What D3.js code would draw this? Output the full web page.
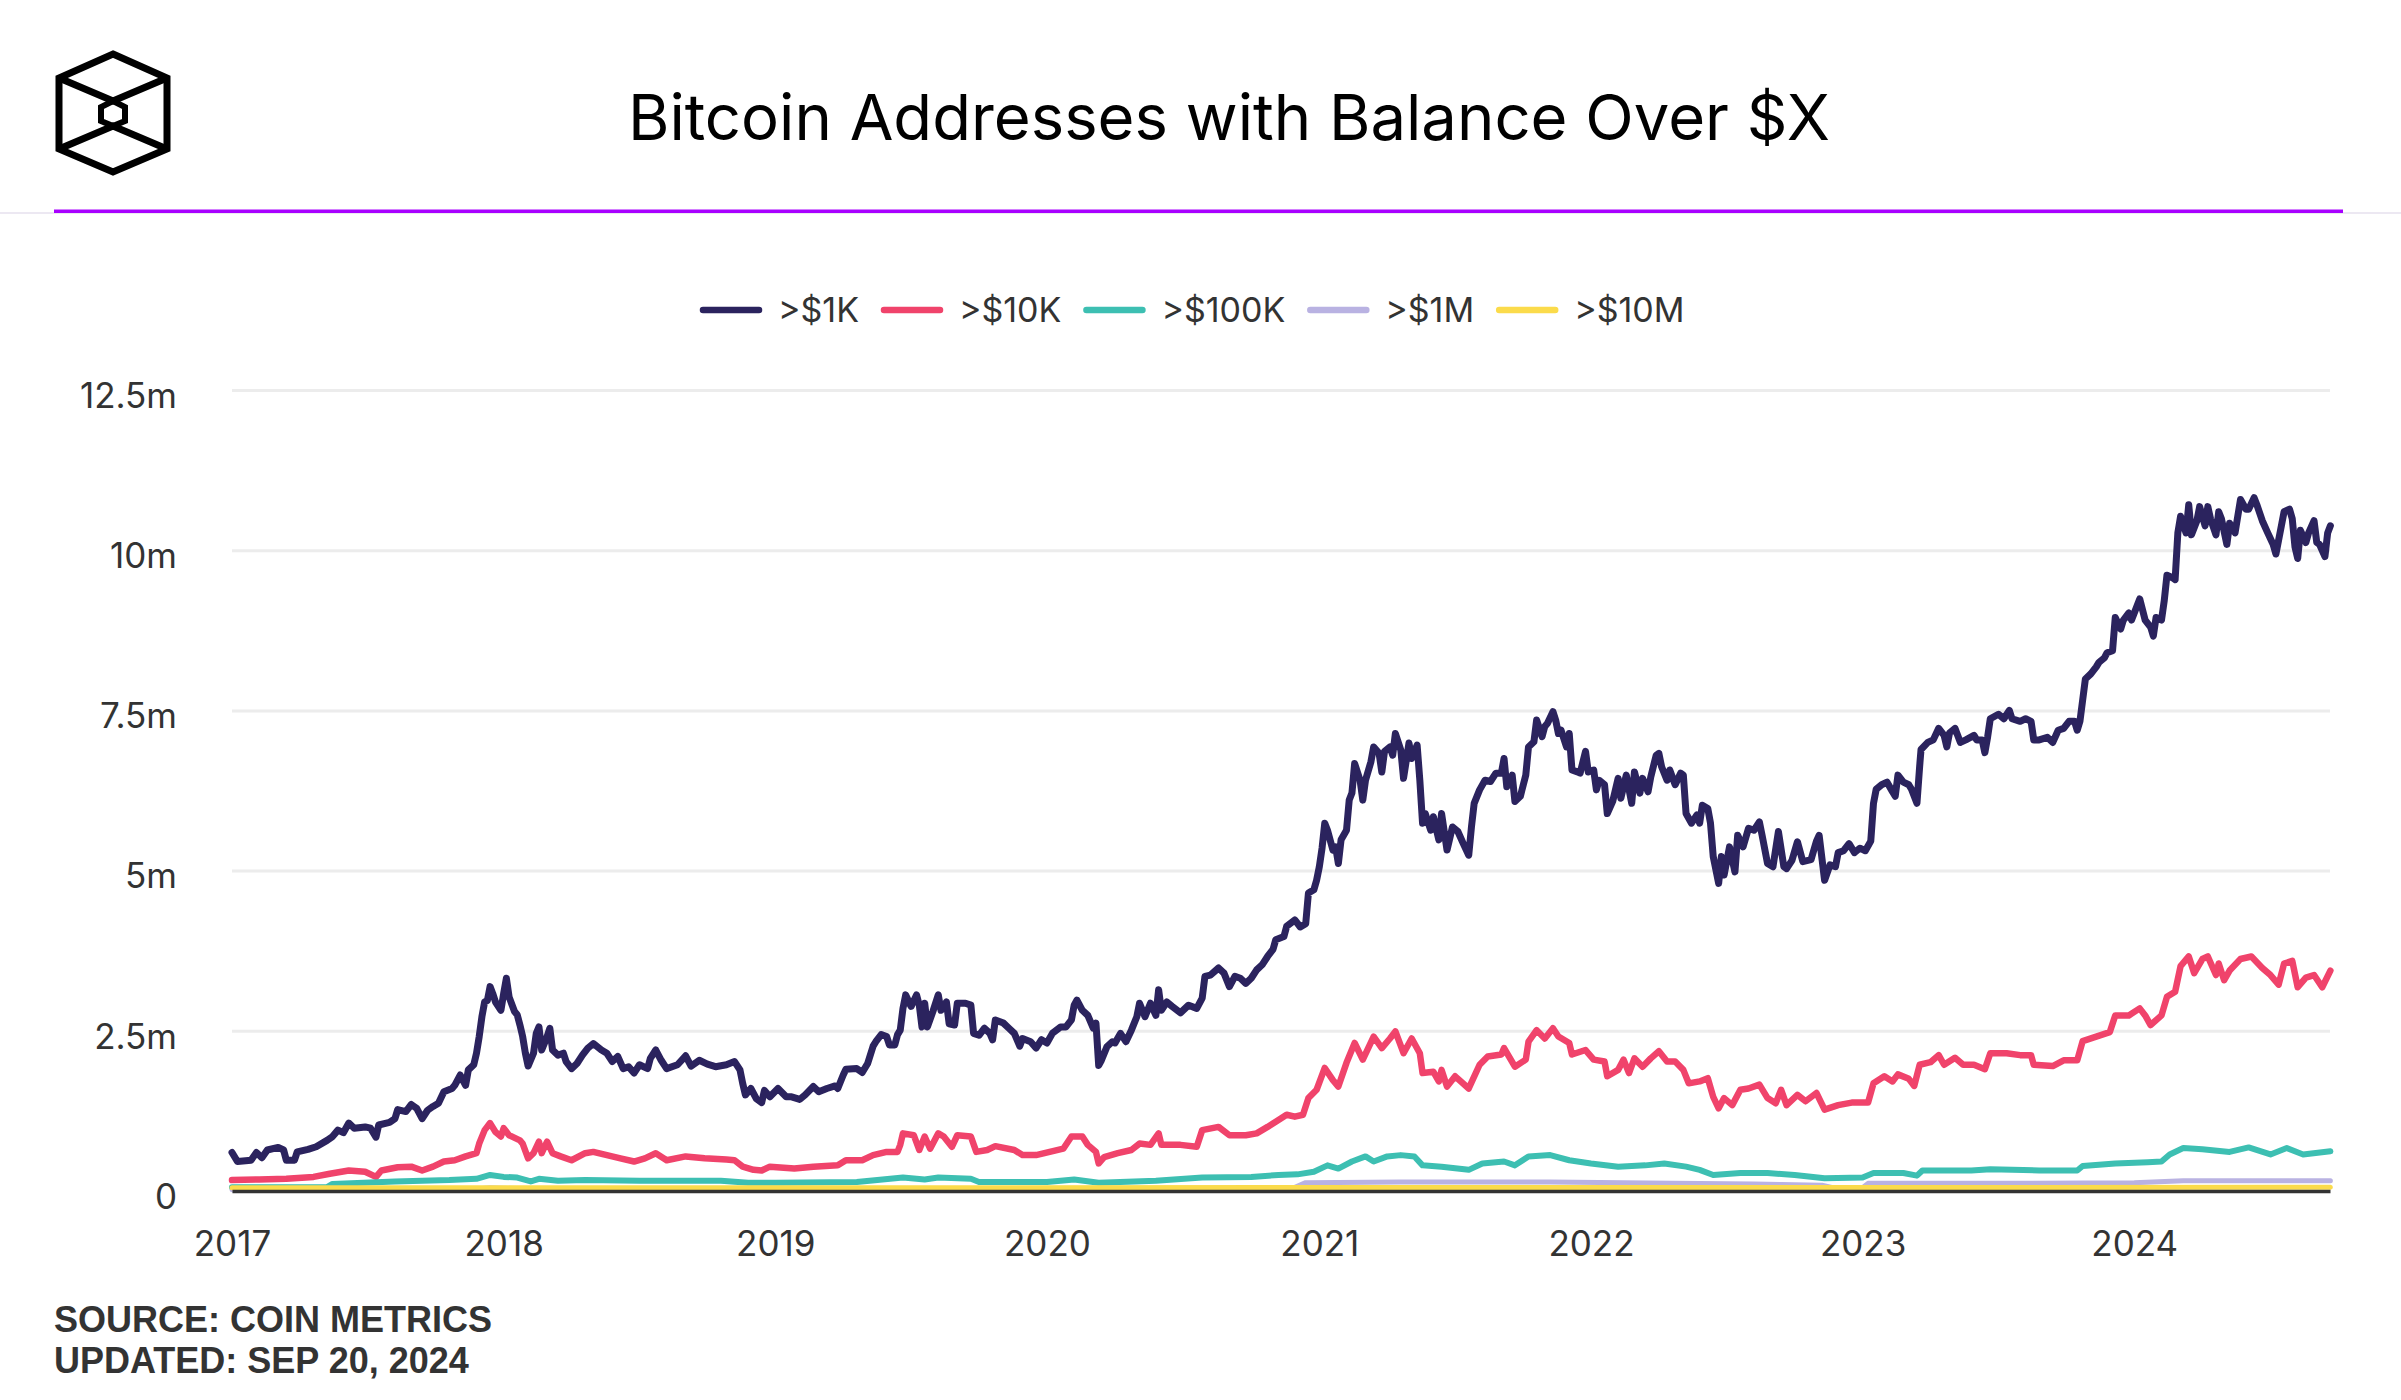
<!DOCTYPE html>
<html><head><meta charset="utf-8">
<script src="https://cdn.jsdelivr.net/npm/d3@7"></script>
<style>body{margin:0;background:#fff;} svg{display:block;}</style>
</head><body>
<svg id="chart" width="2401" height="1400"></svg>
<script>
// ---------- DATA (decimal year, millions of addresses) ----------
const seriesNames = [">$1K", ">$10K", ">$100K", ">$1M", ">$10M"];
const seriesColors = ["#2b235e", "#f0436b", "#3dbfb2", "#b9b2e2", "#fbdb4b"];
const xTickYears = [2017, 2018, 2019, 2020, 2021, 2022, 2023, 2024];
const yTickValues = [0, 2.5, 5, 7.5, 10, 12.5];
const yTickLabels = ["0", "2.5m", "5m", "7.5m", "10m", "12.5m"];
const startDate = "2017-01-01";
const endDate = "2024-09-20";

const over1K = [[2017.00,0.60],[2017.02,0.46],[2017.07,0.48],[2017.09,0.60],[2017.11,0.52],[2017.13,0.64],[2017.17,0.68],[2017.19,0.64],[2017.20,0.48],[2017.23,0.48],[2017.24,0.61],[2017.28,0.65],[2017.31,0.69],[2017.35,0.79],[2017.37,0.85],[2017.39,0.95],[2017.41,0.91],[2017.43,1.06],[2017.45,0.98],[2017.49,1.00],[2017.51,0.98],[2017.53,0.84],[2017.54,1.03],[2017.58,1.07],[2017.60,1.13],[2017.61,1.27],[2017.64,1.24],[2017.66,1.35],[2017.68,1.29],[2017.70,1.13],[2017.72,1.26],[2017.74,1.32],[2017.76,1.37],[2017.78,1.55],[2017.81,1.60],[2017.82,1.65],[2017.84,1.81],[2017.86,1.65],[2017.87,1.89],[2017.89,1.97],[2017.90,2.15],[2017.91,2.41],[2017.92,2.72],[2017.93,2.95],[2017.94,2.97],[2017.95,3.19],[2017.96,3.08],[2017.97,2.95],[2017.99,2.82],[2018.00,3.08],[2018.01,3.32],[2018.02,3.03],[2018.04,2.80],[2018.05,2.75],[2018.06,2.59],[2018.07,2.41],[2018.08,2.15],[2018.09,1.95],[2018.11,2.15],[2018.12,2.46],[2018.13,2.56],[2018.14,2.20],[2018.16,2.41],[2018.17,2.54],[2018.18,2.20],[2018.20,2.12],[2018.22,2.15],[2018.23,2.02],[2018.25,1.91],[2018.27,1.99],[2018.29,2.12],[2018.31,2.23],[2018.33,2.30],[2018.36,2.20],[2018.38,2.15],[2018.40,2.02],[2018.42,2.10],[2018.44,1.91],[2018.46,1.94],[2018.48,1.84],[2018.50,1.97],[2018.53,1.91],[2018.54,2.07],[2018.56,2.20],[2018.58,2.04],[2018.60,1.91],[2018.64,1.97],[2018.67,2.11],[2018.69,1.95],[2018.72,2.04],[2018.75,1.98],[2018.78,1.94],[2018.82,1.97],[2018.85,2.02],[2018.87,1.89],[2018.88,1.68],[2018.89,1.50],[2018.91,1.60],[2018.93,1.44],[2018.95,1.38],[2018.96,1.57],[2018.98,1.47],[2019.01,1.60],[2019.04,1.47],[2019.06,1.47],[2019.09,1.43],[2019.11,1.50],[2019.14,1.63],[2019.16,1.55],[2019.19,1.60],[2019.22,1.64],[2019.23,1.60],[2019.25,1.81],[2019.26,1.90],[2019.30,1.91],[2019.32,1.85],[2019.34,1.99],[2019.36,2.26],[2019.37,2.33],[2019.39,2.44],[2019.41,2.41],[2019.42,2.28],[2019.44,2.28],[2019.45,2.44],[2019.46,2.51],[2019.47,2.85],[2019.48,3.06],[2019.50,2.88],[2019.52,3.06],[2019.53,2.90],[2019.54,2.56],[2019.55,2.93],[2019.56,2.56],[2019.58,2.80],[2019.60,3.06],[2019.61,2.82],[2019.63,2.95],[2019.64,2.61],[2019.66,2.59],[2019.67,2.93],[2019.70,2.93],[2019.72,2.90],[2019.73,2.46],[2019.75,2.43],[2019.77,2.54],[2019.79,2.46],[2019.80,2.36],[2019.81,2.67],[2019.84,2.62],[2019.86,2.54],[2019.88,2.46],[2019.90,2.26],[2019.91,2.38],[2019.94,2.33],[2019.96,2.23],[2019.98,2.36],[2020.00,2.31],[2020.02,2.46],[2020.05,2.56],[2020.07,2.56],[2020.09,2.67],[2020.10,2.90],[2020.11,2.98],[2020.13,2.82],[2020.15,2.74],[2020.17,2.54],[2020.18,2.62],[2020.19,1.96],[2020.20,2.04],[2020.22,2.25],[2020.24,2.33],[2020.25,2.31],[2020.27,2.46],[2020.29,2.33],[2020.31,2.51],[2020.33,2.72],[2020.34,2.93],[2020.36,2.72],[2020.38,2.93],[2020.40,2.74],[2020.41,3.14],[2020.42,2.82],[2020.44,2.95],[2020.46,2.88],[2020.49,2.78],[2020.52,2.90],[2020.55,2.85],[2020.57,3.01],[2020.58,3.35],[2020.60,3.37],[2020.63,3.48],[2020.65,3.40],[2020.67,3.19],[2020.69,3.35],[2020.71,3.32],[2020.73,3.24],[2020.75,3.32],[2020.77,3.45],[2020.79,3.53],[2020.81,3.66],[2020.83,3.77],[2020.84,3.92],[2020.87,3.97],[2020.88,4.13],[2020.91,4.23],[2020.93,4.12],[2020.95,4.17],[2020.96,4.65],[2020.98,4.70],[2020.99,4.85],[2021.00,5.06],[2021.01,5.35],[2021.02,5.74],[2021.03,5.63],[2021.05,5.32],[2021.06,5.37],[2021.07,5.11],[2021.08,5.48],[2021.10,5.63],[2021.11,6.10],[2021.12,6.21],[2021.13,6.67],[2021.15,6.41],[2021.16,6.10],[2021.17,6.41],[2021.19,6.70],[2021.20,6.93],[2021.22,6.83],[2021.23,6.54],[2021.24,6.86],[2021.26,6.93],[2021.27,6.80],[2021.28,7.14],[2021.30,6.88],[2021.31,6.44],[2021.33,6.99],[2021.34,6.75],[2021.36,6.96],[2021.37,6.41],[2021.38,5.74],[2021.39,5.89],[2021.41,5.63],[2021.42,5.84],[2021.44,5.48],[2021.45,5.89],[2021.47,5.32],[2021.49,5.68],[2021.51,5.61],[2021.53,5.42],[2021.55,5.24],[2021.56,5.68],[2021.57,6.05],[2021.59,6.26],[2021.61,6.41],[2021.63,6.39],[2021.65,6.52],[2021.67,6.52],[2021.68,6.75],[2021.69,6.31],[2021.71,6.49],[2021.72,6.08],[2021.74,6.16],[2021.76,6.49],[2021.77,6.93],[2021.79,7.01],[2021.80,7.35],[2021.82,7.09],[2021.83,7.25],[2021.84,7.30],[2021.86,7.48],[2021.87,7.35],[2021.88,7.14],[2021.89,7.19],[2021.91,6.93],[2021.92,7.14],[2021.93,6.57],[2021.95,6.54],[2021.96,6.52],[2021.98,6.86],[2021.99,6.54],[2022.01,6.57],[2022.02,6.26],[2022.03,6.41],[2022.05,6.34],[2022.06,5.89],[2022.08,6.08],[2022.10,6.44],[2022.11,6.13],[2022.13,6.49],[2022.15,6.05],[2022.16,6.54],[2022.18,6.21],[2022.19,6.44],[2022.21,6.23],[2022.22,6.46],[2022.24,6.80],[2022.25,6.83],[2022.26,6.62],[2022.28,6.41],[2022.29,6.57],[2022.31,6.34],[2022.33,6.52],[2022.34,6.49],[2022.35,5.89],[2022.37,5.74],[2022.39,5.87],[2022.40,5.74],[2022.41,6.02],[2022.43,5.97],[2022.44,5.74],[2022.45,5.22],[2022.47,4.80],[2022.48,5.22],[2022.49,4.93],[2022.51,5.37],[2022.53,4.98],[2022.54,5.55],[2022.56,5.37],[2022.58,5.66],[2022.60,5.63],[2022.62,5.76],[2022.63,5.55],[2022.65,5.11],[2022.67,5.06],[2022.69,5.61],[2022.71,5.06],[2022.72,5.03],[2022.74,5.16],[2022.76,5.45],[2022.78,5.14],[2022.81,5.17],[2022.83,5.46],[2022.84,5.55],[2022.86,4.85],[2022.88,5.09],[2022.90,5.06],[2022.91,5.28],[2022.93,5.31],[2022.95,5.42],[2022.97,5.28],[2022.99,5.35],[2023.01,5.31],[2023.03,5.46],[2023.04,6.05],[2023.05,6.27],[2023.07,6.34],[2023.09,6.38],[2023.11,6.23],[2023.12,6.16],[2023.13,6.49],[2023.15,6.38],[2023.17,6.34],[2023.18,6.27],[2023.20,6.05],[2023.21,6.63],[2023.215,6.89],[2023.24,7.00],[2023.26,7.04],[2023.28,7.22],[2023.30,7.11],[2023.31,6.93],[2023.32,7.15],[2023.34,7.22],[2023.36,7.00],[2023.38,7.04],[2023.41,7.11],[2023.42,7.04],[2023.44,7.04],[2023.45,6.84],[2023.46,7.08],[2023.47,7.37],[2023.50,7.44],[2023.52,7.37],[2023.54,7.50],[2023.55,7.37],[2023.58,7.33],[2023.60,7.37],[2023.62,7.33],[2023.63,7.04],[2023.65,7.04],[2023.68,7.08],[2023.70,7.00],[2023.72,7.19],[2023.74,7.22],[2023.76,7.33],[2023.78,7.33],[2023.79,7.19],[2023.80,7.33],[2023.81,7.66],[2023.82,7.99],[2023.84,8.07],[2023.86,8.18],[2023.87,8.25],[2023.89,8.32],[2023.90,8.40],[2023.92,8.43],[2023.93,8.95],[2023.95,8.77],[2023.96,8.91],[2023.98,9.02],[2023.99,8.91],[2024.01,9.13],[2024.02,9.24],[2024.04,8.91],[2024.06,8.80],[2024.07,8.66],[2024.08,8.95],[2024.10,8.91],[2024.11,9.21],[2024.12,9.61],[2024.14,9.57],[2024.15,9.54],[2024.16,10.27],[2024.17,10.53],[2024.19,10.27],[2024.20,10.71],[2024.21,10.24],[2024.23,10.46],[2024.24,10.68],[2024.26,10.38],[2024.27,10.68],[2024.28,10.49],[2024.30,10.24],[2024.31,10.60],[2024.32,10.49],[2024.34,10.09],[2024.35,10.42],[2024.37,10.27],[2024.39,10.79],[2024.41,10.64],[2024.42,10.64],[2024.44,10.82],[2024.45,10.71],[2024.47,10.46],[2024.49,10.27],[2024.51,10.09],[2024.52,9.94],[2024.54,10.38],[2024.55,10.60],[2024.57,10.64],[2024.58,10.49],[2024.59,10.05],[2024.60,9.87],[2024.61,10.31],[2024.63,10.12],[2024.64,10.27],[2024.66,10.46],[2024.67,10.12],[2024.68,10.09],[2024.70,9.90],[2024.71,10.27],[2024.72,10.38]];

const over10K = [[2017.00,0.17],[2017.10,0.18],[2017.20,0.19],[2017.30,0.22],[2017.36,0.27],[2017.43,0.32],[2017.49,0.30],[2017.53,0.22],[2017.55,0.32],[2017.61,0.37],[2017.66,0.38],[2017.70,0.32],[2017.74,0.38],[2017.78,0.46],[2017.82,0.48],[2017.86,0.54],[2017.90,0.59],[2017.91,0.74],[2017.93,0.95],[2017.95,1.06],[2017.97,0.92],[2017.99,0.85],[2018.00,0.98],[2018.02,0.87],[2018.06,0.79],[2018.07,0.74],[2018.09,0.51],[2018.11,0.59],[2018.13,0.77],[2018.14,0.59],[2018.16,0.77],[2018.18,0.59],[2018.21,0.54],[2018.25,0.48],[2018.30,0.59],[2018.33,0.61],[2018.38,0.56],[2018.43,0.51],[2018.48,0.46],[2018.52,0.51],[2018.56,0.59],[2018.60,0.48],[2018.67,0.54],[2018.74,0.51],[2018.82,0.49],[2018.85,0.48],[2018.88,0.38],[2018.92,0.33],[2018.95,0.32],[2018.98,0.38],[2019.07,0.35],[2019.14,0.38],[2019.23,0.40],[2019.26,0.48],[2019.32,0.48],[2019.36,0.56],[2019.41,0.61],[2019.45,0.61],[2019.46,0.72],[2019.47,0.90],[2019.51,0.87],[2019.53,0.64],[2019.55,0.85],[2019.57,0.66],[2019.60,0.90],[2019.62,0.85],[2019.65,0.69],[2019.67,0.87],[2019.72,0.85],[2019.74,0.61],[2019.78,0.64],[2019.81,0.70],[2019.88,0.64],[2019.91,0.56],[2019.96,0.56],[2020.01,0.61],[2020.06,0.66],[2020.09,0.85],[2020.13,0.85],[2020.15,0.72],[2020.18,0.61],[2020.19,0.43],[2020.21,0.53],[2020.26,0.59],[2020.31,0.64],[2020.34,0.74],[2020.38,0.72],[2020.41,0.90],[2020.42,0.72],[2020.49,0.72],[2020.55,0.69],[2020.57,0.95],[2020.63,1.00],[2020.67,0.87],[2020.73,0.87],[2020.77,0.90],[2020.81,1.00],[2020.84,1.08],[2020.88,1.19],[2020.91,1.16],[2020.94,1.19],[2020.96,1.45],[2020.99,1.58],[2021.02,1.92],[2021.05,1.73],[2021.07,1.63],[2021.10,2.00],[2021.13,2.31],[2021.16,2.05],[2021.20,2.41],[2021.23,2.23],[2021.26,2.38],[2021.28,2.49],[2021.31,2.15],[2021.34,2.38],[2021.37,2.15],[2021.38,1.84],[2021.42,1.86],[2021.44,1.71],[2021.45,1.89],[2021.47,1.63],[2021.50,1.79],[2021.55,1.60],[2021.59,1.97],[2021.62,2.10],[2021.67,2.13],[2021.68,2.23],[2021.72,1.94],[2021.76,2.05],[2021.77,2.33],[2021.80,2.51],[2021.83,2.38],[2021.86,2.54],[2021.88,2.41],[2021.92,2.31],[2021.93,2.13],[2021.98,2.20],[2022.01,2.05],[2022.05,2.02],[2022.06,1.79],[2022.10,1.89],[2022.12,2.05],[2022.14,1.84],[2022.16,2.07],[2022.19,1.94],[2022.22,2.07],[2022.25,2.18],[2022.28,2.02],[2022.31,2.02],[2022.34,1.89],[2022.36,1.68],[2022.40,1.71],[2022.43,1.76],[2022.45,1.47],[2022.47,1.29],[2022.49,1.45],[2022.52,1.34],[2022.55,1.58],[2022.58,1.60],[2022.62,1.66],[2022.65,1.45],[2022.68,1.37],[2022.70,1.58],[2022.72,1.34],[2022.76,1.50],[2022.79,1.40],[2022.83,1.53],[2022.86,1.27],[2022.91,1.34],[2022.96,1.38],[2023.02,1.38],[2023.04,1.68],[2023.08,1.79],[2023.11,1.71],[2023.13,1.82],[2023.17,1.75],[2023.19,1.64],[2023.21,1.97],[2023.25,2.01],[2023.28,2.12],[2023.30,1.97],[2023.34,2.08],[2023.37,1.97],[2023.41,1.97],[2023.45,1.90],[2023.47,2.15],[2023.53,2.15],[2023.58,2.12],[2023.62,2.12],[2023.63,1.97],[2023.70,1.95],[2023.74,2.04],[2023.79,2.04],[2023.81,2.34],[2023.86,2.41],[2023.91,2.48],[2023.93,2.74],[2023.98,2.74],[2024.02,2.85],[2024.04,2.74],[2024.06,2.59],[2024.10,2.74],[2024.12,3.03],[2024.15,3.11],[2024.17,3.51],[2024.20,3.66],[2024.22,3.40],[2024.25,3.62],[2024.27,3.66],[2024.30,3.37],[2024.31,3.55],[2024.33,3.29],[2024.35,3.44],[2024.39,3.62],[2024.43,3.66],[2024.47,3.48],[2024.50,3.37],[2024.53,3.22],[2024.55,3.55],[2024.58,3.59],[2024.60,3.18],[2024.63,3.33],[2024.66,3.37],[2024.69,3.18],[2024.72,3.44]];

const over100K = [[2017.00,0.06],[2017.35,0.06],[2017.37,0.11],[2017.60,0.15],[2017.80,0.17],[2017.90,0.19],[2017.95,0.25],[2018.00,0.22],[2018.05,0.21],[2018.10,0.15],[2018.13,0.19],[2018.20,0.16],[2018.30,0.17],[2018.50,0.16],[2018.80,0.16],[2018.90,0.13],[2019.00,0.13],[2019.30,0.14],[2019.47,0.21],[2019.55,0.18],[2019.60,0.21],[2019.72,0.19],[2019.75,0.14],[2020.00,0.14],[2020.10,0.18],[2020.19,0.13],[2020.40,0.16],[2020.57,0.21],[2020.75,0.22],[2020.85,0.25],[2020.92,0.26],[2020.98,0.30],[2021.03,0.40],[2021.07,0.35],[2021.12,0.46],[2021.17,0.54],[2021.20,0.46],[2021.25,0.54],[2021.30,0.56],[2021.35,0.54],[2021.38,0.40],[2021.45,0.38],[2021.55,0.33],[2021.60,0.43],[2021.68,0.46],[2021.72,0.40],[2021.77,0.54],[2021.85,0.56],[2021.92,0.48],[2022.00,0.43],[2022.10,0.38],[2022.20,0.40],[2022.27,0.43],[2022.35,0.38],[2022.40,0.33],[2022.45,0.25],[2022.55,0.28],[2022.65,0.28],[2022.75,0.25],[2022.86,0.20],[2023.00,0.21],[2023.04,0.28],[2023.15,0.28],[2023.20,0.24],[2023.22,0.32],[2023.40,0.32],[2023.47,0.34],[2023.65,0.32],[2023.79,0.32],[2023.81,0.39],[2023.93,0.43],[2024.05,0.45],[2024.10,0.46],[2024.13,0.57],[2024.18,0.67],[2024.25,0.65],[2024.35,0.61],[2024.42,0.68],[2024.50,0.57],[2024.56,0.67],[2024.62,0.57],[2024.72,0.62]];

const over1M = [[2017.00,0.02],[2017.90,0.03],[2017.95,0.05],[2018.10,0.03],[2020.90,0.04],[2020.95,0.13],[2021.30,0.14],[2021.85,0.14],[2022.30,0.12],[2022.60,0.11],[2022.70,0.10],[2022.85,0.09],[2022.89,0.05],[2023.00,0.05],[2023.02,0.12],[2023.50,0.12],[2024.00,0.13],[2024.18,0.16],[2024.72,0.16]];

const over10M = [[2017.00,0.050],[2019.00,0.050],[2021.00,0.055],[2023.00,0.055],[2024.72,0.057]];

const allSeries = [over1K, over10K, over100K, over1M, over10M];
const seriesWidths = [7, 6.5, 6, 5, 5];

// ---------- CHART ----------
const svg = d3.select("#chart");
const W = 2401;
const plot = {left: 232, right: 2330, top: 390, bottom: 1191};
const FONT = "Inter, 'Open Sans', sans-serif";

function yearToDate(v) {
  const yr = Math.floor(v);
  const a = Date.UTC(yr, 0, 1), b = Date.UTC(yr + 1, 0, 1);
  return new Date(a + (v - yr) * (b - a));
}

const x = d3.scaleUtc()
  .domain([new Date(startDate + "T00:00:00Z"), new Date(endDate + "T00:00:00Z")])
  .range([plot.left, plot.right]);
const y = d3.scaleLinear().domain([0, 12.5]).range([plot.bottom, plot.top]);

// Header: logo
const logo = svg.append("g").attr("fill", "none").attr("stroke", "#000")
  .attr("stroke-width", 7).attr("stroke-linejoin", "miter");
logo.append("path").attr("d", "M113,54 L167,78 L167,149 L113,172 L59,149 L59,78 Z");
logo.append("path").attr("d", "M59,78 L113,101 L167,78");
logo.append("path").attr("d", "M59,149 L113,126 L167,149");
logo.append("path").attr("d", "M113,101 L125,107 L125,121 L113,126 L101,121 L101,107 Z").attr("stroke-width", 6);

// Title
const title = svg.append("text")
  .attr("x", 1229).attr("y", 140)
  .attr("text-anchor", "middle")
  .style("font-family", FONT)
  .style("font-weight", 400)
  .style("font-size", "64px")
  .attr("fill", "#000")
  .text("Bitcoin Addresses with Balance Over $X");
const tl = title.node().getComputedTextLength();
title.style("font-size", (64 * 1202 / tl).toFixed(2) + "px");

// Header separators
svg.append("line").attr("x1", 0).attr("x2", W).attr("y1", 213).attr("y2", 213)
  .attr("stroke", "#e6e0ee").attr("stroke-width", 1.5);
svg.append("rect").attr("x", 54).attr("y", 209.5).attr("width", 2289).attr("height", 3.5)
  .attr("fill", "#a800ff");

// Legend
const legend = svg.append("g").attr("transform", "translate(0,310)");
let lx = 700;
seriesNames.forEach((name, i) => {
  const g = legend.append("g");
  g.append("line").attr("x1", lx + 3).attr("x2", lx + 59).attr("y1", 0).attr("y2", 0)
    .attr("stroke", seriesColors[i]).attr("stroke-width", 6.5).attr("stroke-linecap", "round");
  const t = g.append("text").attr("x", lx + 78).attr("y", 0).attr("dy", "0.36em")
    .style("font-family", FONT).style("font-size", "34px")
    .attr("fill", "#333").text(name);
  lx = lx + 78 + t.node().getComputedTextLength() + 22;
});

// Gridlines
const grid = svg.append("g").attr("transform", `translate(${plot.left},0)`)
  .call(d3.axisLeft(y).tickValues(yTickValues).tickSize(-(plot.right - plot.left)).tickFormat(""));
grid.select(".domain").remove();
grid.selectAll(".tick line").attr("stroke", "#ececec").attr("stroke-width", 3);

// Y axis labels
const yAxis = svg.append("g").attr("transform", `translate(${plot.left},0)`)
  .call(d3.axisLeft(y).tickValues(yTickValues).tickSize(0).tickPadding(55)
    .tickFormat((d, i) => yTickLabels[i]));
yAxis.select(".domain").remove();
yAxis.selectAll("text").attr("fill", "#333").attr("y", 6)
  .style("font-family", FONT).style("font-size", "35px");

// Lines
const line = d3.line().x(d => x(yearToDate(d[0]))).y(d => y(d[1]));
const linesG = svg.append("g");
allSeries.forEach((s, i) => {
  linesG.append("path").datum(s).attr("d", line)
    .attr("fill", "none").attr("stroke", seriesColors[i])
    .attr("stroke-width", seriesWidths[i]).attr("stroke-linejoin", "round").attr("stroke-linecap", "round");
});

// X axis
const xAxis = svg.append("g").attr("transform", `translate(0,${plot.bottom})`)
  .call(d3.axisBottom(x).tickValues(xTickYears.map(yv => new Date(Date.UTC(yv, 0, 1))))
    .tickFormat(d3.utcFormat("%Y")).tickSize(0).tickPadding(40));
xAxis.select(".domain").attr("stroke", "#333").attr("stroke-width", 3.5);
xAxis.selectAll("text").attr("fill", "#333")
  .style("font-family", FONT).style("font-size", "35px");

// Footer
const foot = svg.append("g").attr("fill", "#333")
  .style("font-family", "'Liberation Sans', Arial, sans-serif").style("font-weight", 700).style("font-size", "36px");
foot.append("text").attr("x", 54).attr("y", 1332).text("SOURCE: COIN METRICS");
foot.append("text").attr("x", 54).attr("y", 1373).text("UPDATED: SEP 20, 2024");
</script>
</body></html>
